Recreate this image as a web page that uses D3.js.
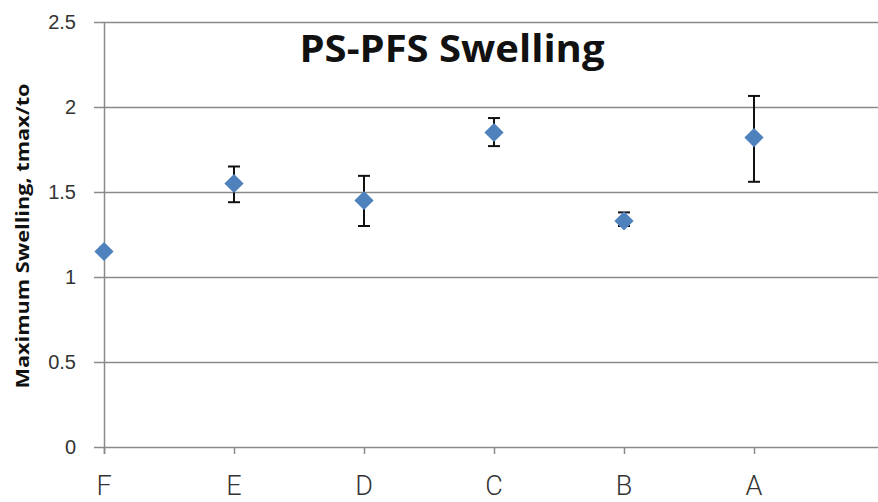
<!DOCTYPE html>
<html>
<head>
<meta charset="utf-8">
<script src="https://cdn.jsdelivr.net/npm/d3@7"></script>
<style>
  body { margin: 0; background: #fff; }
  svg { display: block; }
</style>
</head>
<body>
<div id="chart"></div>
<script>
// chart values
var categories = ["F", "E", "D", "C", "B", "A"];
var swelling = [1.15, 1.55, 1.45, 1.85, 1.33, 1.82];
var errTop = [1.15, 1.65, 1.595, 1.935, 1.38, 2.065];
var errBottom = [1.15, 1.44, 1.30, 1.77, 1.30, 1.56];
var yTicks = [0, 0.5, 1, 1.5, 2, 2.5];

var width = 878, height = 502;

var svg = d3.select("#chart")
    .append("svg")
    .attr("width", width)
    .attr("height", height);

var x = d3.scalePoint()
    .domain(categories)
    .range([104, 754]);

var y = d3.scaleLinear()
    .domain([0, 2.5])
    .range([447, 22]);

// horizontal gridlines
svg.selectAll(".grid")
    .data(yTicks)
    .enter()
    .append("line")
    .attr("class", "grid")
    .attr("x1", 94)
    .attr("x2", width)
    .attr("y1", function(d) { return y(d) + 0.5; })
    .attr("y2", function(d) { return y(d) + 0.5; })
    .attr("stroke", "#8a8a8a")
    .attr("stroke-width", 1.5);

// y axis line
svg.append("line")
    .attr("x1", x("F") + 0.5).attr("x2", x("F") + 0.5)
    .attr("y1", y(2.5)).attr("y2", y(0) + 7)
    .attr("stroke", "#8a8a8a")
    .attr("stroke-width", 1.5);

// x tick marks
svg.selectAll(".xtick")
    .data(categories)
    .enter()
    .append("line")
    .attr("class", "xtick")
    .attr("x1", function(d) { return x(d) + 0.5; })
    .attr("x2", function(d) { return x(d) + 0.5; })
    .attr("y1", y(0))
    .attr("y2", y(0) + 7)
    .attr("stroke", "#8a8a8a")
    .attr("stroke-width", 1.5);

// y tick labels
svg.selectAll(".ylab")
    .data(yTicks)
    .enter()
    .append("text")
    .attr("class", "ylab")
    .attr("x", 76)
    .attr("y", function(d) { return y(d); })
    .attr("dy", "0.35em")
    .attr("text-anchor", "end")
    .attr("font-family", "Liberation Sans, Arial, sans-serif")
    .attr("font-size", 20)
    .attr("fill", "#333")
    .text(function(d) { return d; });

// x category labels
svg.selectAll(".xlab")
    .data(categories)
    .enter()
    .append("text")
    .attr("class", "xlab")
    .attr("x", function(d) { return x(d); })
    .attr("y", 495)
    .attr("text-anchor", "middle")
    .attr("font-family", "Roboto, Liberation Sans, sans-serif")
    .attr("font-weight", 300)
    .attr("font-size", 27)
    .attr("fill", "#333")
    .text(function(d) { return d; });

// error bars
var points = categories.map(function(c, i) {
    return { cat: c, v: swelling[i], hi: errTop[i], lo: errBottom[i] };
});
var bars = points.filter(function(d) { return d.hi > d.lo; });

svg.selectAll(".err")
    .data(bars)
    .enter()
    .append("line")
    .attr("class", "err")
    .attr("x1", function(d) { return x(d.cat); })
    .attr("x2", function(d) { return x(d.cat); })
    .attr("y1", function(d) { return y(d.hi); })
    .attr("y2", function(d) { return y(d.lo); })
    .attr("stroke", "#111")
    .attr("stroke-width", 2);

svg.selectAll(".capTop")
    .data(bars)
    .enter()
    .append("line")
    .attr("x1", function(d) { return x(d.cat) - 6; })
    .attr("x2", function(d) { return x(d.cat) + 6; })
    .attr("y1", function(d) { return y(d.hi); })
    .attr("y2", function(d) { return y(d.hi); })
    .attr("stroke", "#111")
    .attr("stroke-width", 2);

svg.selectAll(".capBottom")
    .data(bars)
    .enter()
    .append("line")
    .attr("x1", function(d) { return x(d.cat) - 6; })
    .attr("x2", function(d) { return x(d.cat) + 6; })
    .attr("y1", function(d) { return y(d.lo); })
    .attr("y2", function(d) { return y(d.lo); })
    .attr("stroke", "#111")
    .attr("stroke-width", 2);

// diamond markers
svg.selectAll(".pt")
    .data(points)
    .enter()
    .append("path")
    .attr("class", "pt")
    .attr("d", d3.symbol().type(d3.symbolSquare).size(185))
    .attr("transform", function(d) {
        return "translate(" + x(d.cat) + "," + y(d.v) + ") rotate(45)";
    })
    .attr("fill", "#4f81bd");

// title
svg.append("text")
    .attr("x", 452)
    .attr("y", 62)
    .attr("text-anchor", "middle")
    .attr("font-family", "Open Sans, Liberation Sans, sans-serif")
    .attr("font-weight", "bold")
    .attr("font-size", 38)
    .attr("textLength", 305)
    .attr("lengthAdjust", "spacingAndGlyphs")
    .attr("fill", "#111")
    .text("PS-PFS Swelling");

// y axis title
svg.append("text")
    .attr("transform", "translate(29,236) rotate(-90)")
    .attr("text-anchor", "middle")
    .attr("font-family", "Open Sans, Liberation Sans, sans-serif")
    .attr("font-weight", "bold")
    .attr("font-size", 17)
    .attr("textLength", 305)
    .attr("lengthAdjust", "spacingAndGlyphs")
    .attr("fill", "#111")
    .text("Maximum Swelling, tmax/to");
</script>
</body>
</html>
